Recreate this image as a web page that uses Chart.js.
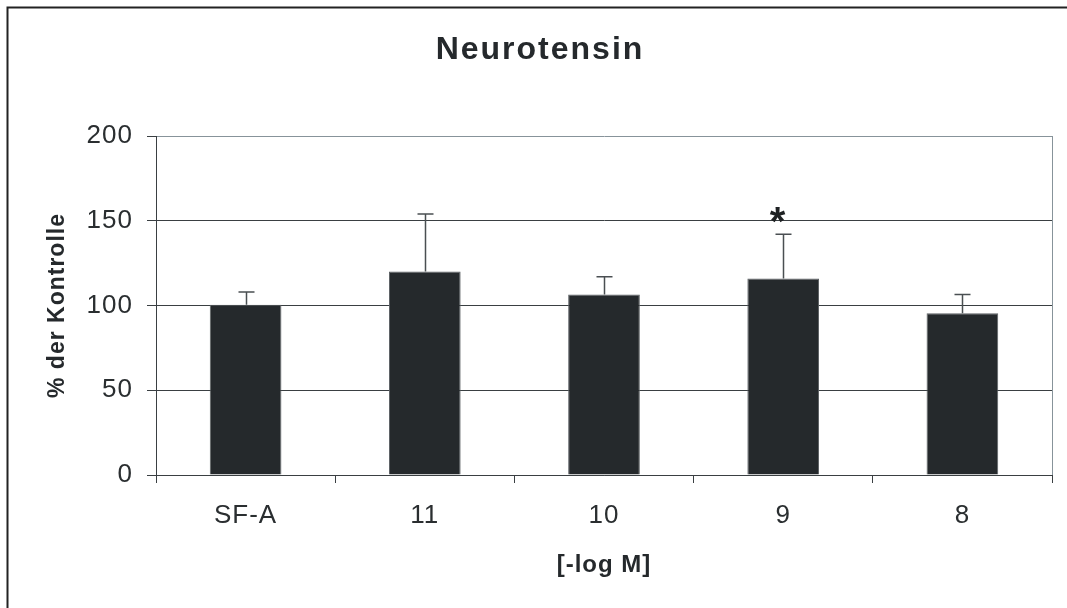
<!DOCTYPE html>
<html>
<head>
<meta charset="utf-8">
<script src="https://cdn.jsdelivr.net/npm/chart.js@4/dist/chart.umd.min.js"></script>
<style>
  html, body { margin: 0; padding: 0; background: #ffffff; }
  #wrap { width: 1067px; height: 608px; position: relative; }
</style>
</head>
<body>
<div id="wrap"><canvas id="chart" width="1067" height="608"></canvas></div>
<script>
// Neurotensin response, % of control, by concentration [-log M]
const categories = ['SF-A', '11', '10', '9', '8'];
const meanValues = [100.5, 120, 106.5, 116, 95.5];
const errorValues = [7.5, 34, 10.5, 26, 11];
const significance = ['', '', '', '*', ''];
const yTicks = [0, 50, 100, 150, 200];
const chartTitle = 'Neurotensin';

const FONT = "'Liberation Sans', Arial, sans-serif";
const INK = '#25292c';
const FRAME_GREY = '#87939a';

// white background, outer frame lines along the top and left edges, heading
const figureFrame = {
  id: 'figureFrame',
  beforeDraw(chart) {
    const ctx = chart.ctx;
    // slightly spaced lettering for the axis text
    ctx.letterSpacing = '1px';
    ctx.save();
    ctx.fillStyle = '#ffffff';
    ctx.fillRect(0, 0, chart.width, chart.height);
    ctx.strokeStyle = '#222222';
    ctx.lineWidth = 2;
    ctx.beginPath();
    ctx.moveTo(chart.width, 7.5);
    ctx.lineTo(7.5, 7.5);
    ctx.lineTo(7.5, chart.height);
    ctx.stroke();
    ctx.letterSpacing = '2px';
    ctx.fillStyle = INK;
    ctx.font = 'bold 32px ' + FONT;
    ctx.textAlign = 'center';
    ctx.textBaseline = 'middle';
    ctx.fillText(chartTitle, 540, 50);
    ctx.restore();
  }
};

// light frame on the right side of the plot area
const plotFrame = {
  id: 'plotFrame',
  beforeDatasetsDraw(chart) {
    const { ctx, chartArea: a } = chart;
    ctx.save();
    ctx.strokeStyle = FRAME_GREY;
    ctx.lineWidth = 1;
    ctx.beginPath();
    ctx.moveTo(Math.round(a.right) + 0.5, a.top);
    ctx.lineTo(Math.round(a.right) + 0.5, a.bottom);
    ctx.stroke();
    ctx.restore();
  }
};

// upward error bars and significance marks
const errorBars = {
  id: 'errorBars',
  afterDatasetsDraw(chart) {
    const ctx = chart.ctx;
    const meta = chart.getDatasetMeta(0);
    const yScale = chart.scales.y;
    ctx.save();
    meta.data.forEach((bar, i) => {
      const x = Math.round(bar.x) + 0.5;
      const yTop = yScale.getPixelForValue(meanValues[i] + errorValues[i]);
      const yBar = yScale.getPixelForValue(meanValues[i]);
      ctx.strokeStyle = '#4a4f52';
      ctx.lineWidth = 1.5;
      ctx.beginPath();
      ctx.moveTo(x, yBar);
      ctx.lineTo(x, yTop);
      ctx.moveTo(x - 8, yTop);
      ctx.lineTo(x + 8, yTop);
      ctx.stroke();
      if (significance[i]) {
        ctx.letterSpacing = '0px';
        ctx.fillStyle = '#1e2123';
        ctx.font = 'bold 40px ' + FONT;
        ctx.textAlign = 'center';
        ctx.textBaseline = 'alphabetic';
        ctx.fillText(significance[i], x - 6, yTop + 1);
      }
    });
    ctx.restore();
  }
};

new Chart(document.getElementById('chart'), {
  type: 'bar',
  data: {
    labels: categories,
    datasets: [{
      data: meanValues,
      backgroundColor: INK,
      borderColor: '#5c6164',
      borderWidth: 1,
      barPercentage: 0.4,
      categoryPercentage: 1.0
    }]
  },
  options: {
    responsive: false,
    animation: false,
    layout: { padding: { left: 0, right: 15, top: 136, bottom: 0 } },
    plugins: {
      legend: { display: false },
      tooltip: { enabled: false },
      title: { display: false }
    },
    scales: {
      x: {
        offset: true,
        grid: {
          display: true,
          offset: true,
          drawOnChartArea: false,
          drawTicks: true,
          tickLength: 8,
          color: '#3a3f42',
          tickColor: '#3a3f42'
        },
        border: { display: true, color: '#3a3f42', width: 1 },
        ticks: {
          color: '#2a2e30',
          font: { family: FONT, size: 26 },
          padding: 17,
          autoSkip: false,
          maxRotation: 0
        },
        title: {
          display: true,
          text: '[-log M]',
          color: INK,
          font: { family: FONT, size: 24, weight: 'bold', lineHeight: 1.2 },
          padding: { top: 0, bottom: 28 }
        },
        afterFit(scale) { scale.height = 133; }
      },
      y: {
        min: 0,
        max: 200,
        afterBuildTicks(scale) { scale.ticks = yTicks.map(v => ({ value: v })); },
        grid: {
          color: ctx => (ctx.tick && ctx.tick.value === 200) ? FRAME_GREY : '#3a3f42',
          tickColor: '#3a3f42',
          lineWidth: 1,
          drawTicks: true,
          tickLength: 9
        },
        border: { display: true, color: '#3a3f42', width: 1 },
        ticks: {
          color: '#2a2e30',
          font: { family: FONT, size: 26 },
          padding: 14
        },
        title: {
          display: true,
          text: '% der Kontrolle',
          color: INK,
          font: { family: FONT, size: 23, weight: 'bold', lineHeight: 1.2 },
          padding: { top: 44, bottom: 0 }
        },
        afterFit(scale) { scale.width = 156; }
      }
    }
  },
  plugins: [figureFrame, plotFrame, errorBars]
});
</script>
</body>
</html>
